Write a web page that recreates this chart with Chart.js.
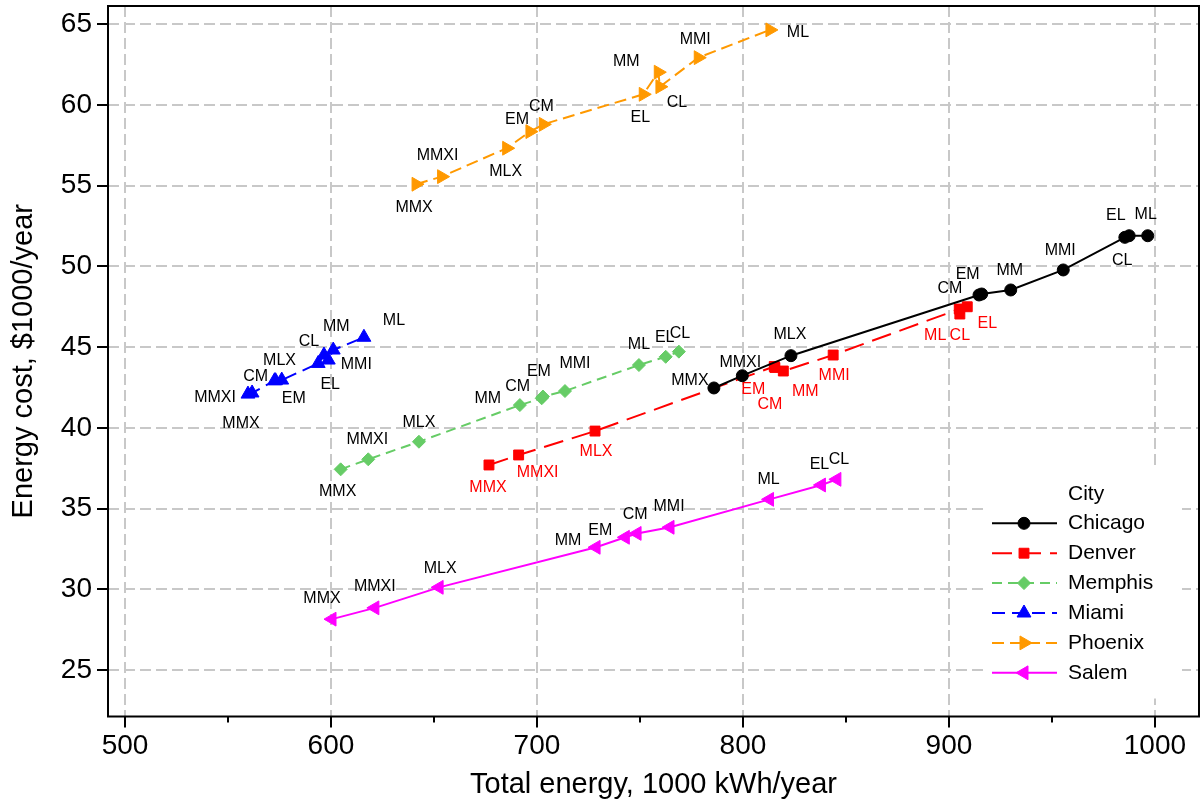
<!DOCTYPE html>
<html><head><meta charset="utf-8">
<script src="https://cdn.jsdelivr.net/npm/chart.js@4/dist/chart.umd.min.js"></script>
<style>html,body{margin:0;padding:0;background:#fff;}canvas{display:block;}</style>
</head><body>
<canvas id="c" width="1201" height="804"></canvas>
<script>
// ---------- data ----------
const pointNames = ['MMX','MMXI','MLX','CM','EM','MM','MMI','EL','CL','ML'];
const cities = ['Chicago','Denver','Memphis','Miami','Phoenix','Salem'];

const chicagoEnergy = [785.9, 799.7, 823.3, 914.6, 915.9, 930.0, 955.5, 985.4, 987.5, 996.5];
const chicagoCost   = [42.47, 43.23, 44.47, 48.23, 48.29, 48.54, 49.78, 51.80, 51.90, 51.90];
const denverEnergy  = [676.7, 691.1, 728.2, 815.5, 815.2, 819.6, 843.8, 908.9, 905.3, 905.0];
const denverCost    = [37.70, 38.32, 39.80, 43.74, 43.80, 43.52, 44.51, 47.50, 47.05, 47.36];
const memphisEnergy = [604.7, 618.1, 642.7, 702.3, 702.9, 691.7, 713.6, 762.5, 768.9, 749.5];
const memphisCost   = [37.43, 38.05, 39.14, 41.83, 41.94, 41.41, 42.28, 44.40, 44.72, 43.89];
const miamiEnergy   = [559.7, 561.7, 572.6, 573.1, 576.1, 601.1, 598.7, 593.8, 596.6, 616.0];
const miamiCost     = [42.09, 42.16, 42.92, 42.92, 42.96, 44.82, 44.20, 43.99, 44.51, 45.61];
const phoenixEnergy = [641.3, 653.7, 685.3, 703.1, 696.6, 758.9, 778.3, 751.6, 759.7, 813.1];
const phoenixCost   = [55.09, 55.56, 57.32, 58.80, 58.35, 62.03, 62.93, 60.66, 61.13, 64.65];
const salemEnergy   = [600.5, 621.3, 652.5, 748.6, 742.9, 728.7, 764.6, 838.1, 845.6, 812.9];
const salemCost     = [28.15, 28.85, 30.12, 33.46, 33.22, 32.60, 33.84, 36.46, 36.81, 35.57];

const energyTicks = [500, 600, 700, 800, 900, 1000];
const energyMinorTicks = [550, 650, 750, 850, 950];
const costTicks = [25, 30, 35, 40, 45, 50, 55, 60, 65];

// label placement (pixel offsets from the marker), same order as pointNames
const chicagoLabelOffsets = [[-24,-7],[-2,-13],[-1,-21],[-29,-6],[-14,-19],[-1,-19],[-3,-19],[-9,-22],[-7,25],[-2,-21]];
const denverLabelOffsets  = [[-1,23],[19,18],[1,21],[-5,37],[-21,23],[22,21],[1,21],[20,17],[0,22],[-24,27]];
const memphisLabelOffsets = [[-3,22],[-1,-20],[0,-19],[-24,-12],[-4,-25],[-32,-6],[10,-27],[-1,-19],[1,-18],[0,-20]];
const miamiLabelOffsets   = [[-7,29],[-37,5],[5,-20],[-20,-4],[12,19],[3,-23],[28,5],[12,21],[-15,-13],[30,-17]];
const phoenixLabelOffsets = [[-2,23],[-4,-21],[-1,23],[-2,-18],[-13,-12],[-32,-11],[-3,-18],[-3,23],[17,16],[28,3]];
const salemLabelOffsets   = [[-10,-21],[0,-21],[1,-19],[-2,-19],[-25,-7],[-28,-7],[-1,-21],[-2,-20],[2,-20],[-1,-20]];

// ---------- styling ----------
const FONT = "'Liberation Sans', Arial, Helvetica, sans-serif";
Chart.defaults.font.family = FONT;

function buildPoints(energy, cost, offsets) {
  return pointNames.map((n, i) => ({x: energy[i], y: cost[i], name: n, off: offsets[i]}))
                   .sort((a, b) => a.x - b.x);
}

const styles = [
  {color:'#000000', dash:[],         style:'circle',   rot:0,   r:6,   labelColor:'#000'},
  {color:'#ff0000', dash:[20,9],     style:'rect',     rot:0,   r:7,   labelColor:'#ff0000'},
  {color:'#66cc66', dash:[10,6],     style:'rectRot',  rot:0,   r:6.5, labelColor:'#000'},
  {color:'#0000ff', dash:[13,7],     style:'triangle', rot:0,   r:8,   labelColor:'#000'},
  {color:'#ff9900', dash:[12,6],     style:'triangle', rot:90,  r:8,   labelColor:'#000'},
  {color:'#ff00ff', dash:[],         style:'triangle', rot:-90, r:8,   labelColor:'#000'}
];
const allPoints = [
  buildPoints(chicagoEnergy, chicagoCost, chicagoLabelOffsets),
  buildPoints(denverEnergy, denverCost, denverLabelOffsets),
  buildPoints(memphisEnergy, memphisCost, memphisLabelOffsets),
  buildPoints(miamiEnergy, miamiCost, miamiLabelOffsets),
  buildPoints(phoenixEnergy, phoenixCost, phoenixLabelOffsets),
  buildPoints(salemEnergy, salemCost, salemLabelOffsets)
];

const datasets = cities.map((c, i) => ({
  label: c,
  data: allPoints[i],
  showLine: true,
  borderColor: styles[i].color,
  backgroundColor: styles[i].color,
  borderWidth: 2,
  borderDash: styles[i].dash,
  pointStyle: styles[i].style,
  pointRotation: styles[i].rot,
  pointRadius: styles[i].r,
  pointHoverRadius: styles[i].r,
  pointBackgroundColor: styles[i].color,
  pointBorderColor: styles[i].color,
  pointBorderWidth: 1,
  labelColor: styles[i].labelColor,
  tension: 0
}));

function drawMarker(ctx, style, x, y, r, rotDeg) {
  const rad = rotDeg * Math.PI / 180;
  ctx.beginPath();
  if (style === 'circle') {
    ctx.arc(x, y, r, 0, Math.PI * 2);
  } else if (style === 'rect') {
    const s = Math.SQRT1_2 * r;
    ctx.rect(x - s, y - s, 2 * s, 2 * s);
  } else if (style === 'rectRot') {
    ctx.moveTo(x, y - r); ctx.lineTo(x + r, y); ctx.lineTo(x, y + r); ctx.lineTo(x - r, y);
    ctx.closePath();
  } else if (style === 'triangle') {
    let a = rad;
    ctx.moveTo(x + Math.sin(a) * r, y - Math.cos(a) * r);
    a += 2 * Math.PI / 3;
    ctx.lineTo(x + Math.sin(a) * r, y - Math.cos(a) * r);
    a += 2 * Math.PI / 3;
    ctx.lineTo(x + Math.sin(a) * r, y - Math.cos(a) * r);
    ctx.closePath();
  }
  ctx.fill();
  ctx.stroke();
}

const decorPlugin = {
  id: 'decor',
  beforeDatasetsDraw(chart) {
    const {ctx, chartArea: a} = chart;
    // legend background (covers grid lines)
    ctx.save();
    ctx.fillStyle = '#ffffff';
    ctx.fillRect(a.right - 216, a.bottom - 248, 199, 230);
    ctx.restore();
  },
  afterDatasetsDraw(chart) {
    const {ctx, chartArea: a} = chart;
    ctx.save();
    // point labels
    ctx.font = '16px ' + FONT;
    ctx.textAlign = 'center';
    ctx.textBaseline = 'middle';
    chart.data.datasets.forEach((ds, di) => {
      const meta = chart.getDatasetMeta(di);
      meta.data.forEach((el, j) => {
        const p = ds.data[j];
        ctx.fillStyle = ds.labelColor;
        ctx.fillText(p.name, el.x + p.off[0], el.y + p.off[1]);
      });
    });
    // legend
    const lx0 = a.right - 207, lx1 = a.right - 142, mx = a.right - 175, tx = a.right - 131;
    const ty = a.bottom - 222.5;
    ctx.textAlign = 'left';
    ctx.fillStyle = '#000';
    ctx.font = '21px ' + FONT;
    ctx.fillText('City', tx, ty);
    chart.data.datasets.forEach((ds, i) => {
      const y = a.bottom - 193.2 + i * 29.9;
      ctx.strokeStyle = ds.borderColor;
      ctx.lineWidth = 2;
      ctx.setLineDash(ds.borderDash);
      ctx.beginPath(); ctx.moveTo(lx0, y); ctx.lineTo(lx1, y); ctx.stroke();
      ctx.setLineDash([]);
      ctx.fillStyle = ds.pointBackgroundColor;
      ctx.lineWidth = 1;
      drawMarker(ctx, ds.pointStyle, mx, y, ds.pointRadius, ds.pointRotation);
      ctx.fillStyle = '#000';
      ctx.font = '21px ' + FONT;
      ctx.fillText(ds.label, tx, y);
    });
    ctx.restore();
  },
  afterDraw(chart) {
    const {ctx, chartArea: a} = chart;
    const xs = chart.scales.x;
    ctx.save();
    ctx.strokeStyle = '#000';
    ctx.lineWidth = 2;
    ctx.setLineDash([]);
    ctx.strokeRect(a.left, a.top, a.right - a.left, a.bottom - a.top);
    // minor ticks on x axis
    energyMinorTicks.forEach(v => {
      const px = Math.round(xs.getPixelForValue(v));
      ctx.beginPath(); ctx.moveTo(px, a.bottom); ctx.lineTo(px, a.bottom + 6); ctx.stroke();
    });
    ctx.restore();
  }
};

const gridOpts = {color:'#c8c8c8', lineWidth:2, drawTicks:true, tickLength:11, tickColor:'#000', tickWidth:2, tickBorderDash:[]};

new Chart(document.getElementById('c'), {
  type: 'scatter',
  data: {datasets},
  options: {
    responsive: false,
    animation: false,
    devicePixelRatio: 1,
    layout: {autoPadding:false, padding: {top:6, right:2, left:0, bottom:0}},
    plugins: {legend: {display:false}, tooltip: {enabled:false}},
    scales: {
      x: {
        type: 'linear', position: 'bottom', min: 491.75, max: 1021.4,
        afterBuildTicks: s => { s.ticks = energyTicks.map(v => ({value: v})); },
        afterFit: s => { s.height = 87.5; s.paddingLeft = 0; s.paddingRight = 0; },
        ticks: {autoSkip:false, maxRotation:0, color:'#000', font:{size:28}, padding:2.4, callback: v => String(v)},
        grid: gridOpts,
        border: {display:false, dash:[11,5]},
        title: {display:true, text:'Total energy, 1000 kWh/year', color:'#000', font:{size:29}, padding:{top:0, bottom:1.7}}
      },
      y: {
        type: 'linear', position: 'left', min: 22.12, max: 66.13,
        afterBuildTicks: s => { s.ticks = costTicks.map(v => ({value: v})); },
        afterFit: s => { s.width = 108; s.paddingTop = 0; s.paddingBottom = 0; },
        ticks: {autoSkip:false, color:'#000', font:{size:28}, padding:5, callback: v => String(v)},
        grid: gridOpts,
        border: {display:false, dash:[11,5]},
        title: {display:true, text:'Energy cost, $1000/year', color:'#000', font:{size:29}, padding:{top:6.6, bottom:0}}
      }
    }
  },
  plugins: [decorPlugin]
});
</script>
</body></html>
